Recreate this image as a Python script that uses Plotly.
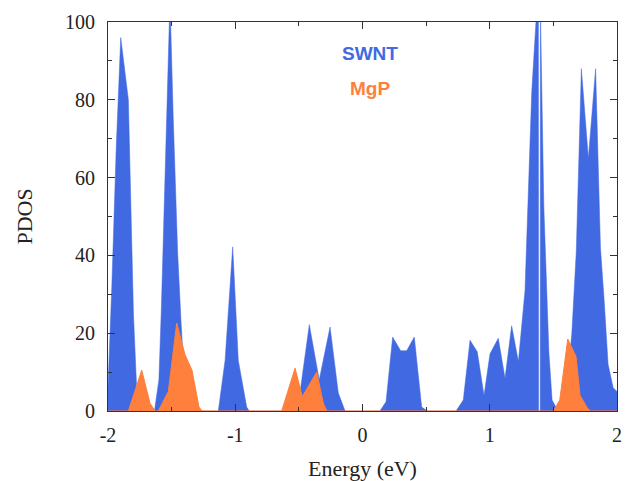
import plotly.graph_objects as go

# SWNT PDOS (energy in eV, value)
swnt_e = [-2.0, -1.97, -1.935, -1.90, -1.84, -1.80, -1.775, -1.76,
          -1.635, -1.60, -1.58, -1.513, -1.487, -1.453, -1.426, -1.40, -1.37,
          -1.133, -1.08, -1.02, -0.976, -0.91, -0.89,
          -0.56, -0.49, -0.418, -0.34, -0.255, -0.19, -0.137,
          0.137, 0.185, 0.237, 0.30, 0.347, 0.407, 0.465, 0.51,
          0.735, 0.792, 0.845, 0.902, 0.955, 1.002, 1.067, 1.12, 1.172, 1.225,
          1.277, 1.33, 1.365, 1.382, 1.3835, 1.3965, 1.398, 1.40, 1.425, 1.465,
          1.49, 1.52, 1.55, 1.60, 1.645, 1.68, 1.72, 1.775, 1.832, 1.87, 1.90,
          1.93, 1.97, 2.0]
swnt_v = [6, 32, 68, 96, 80, 25, 6, 0,
          0, 8, 27, 106, 75, 41, 23, 8, 0,
          0, 13, 42.2, 13, 1, 0,
          0, 5, 22.2, 8, 21.6, 4.6, 0,
          0, 2.4, 19, 15.5, 15.5, 19, 1, 0,
          0, 2.8, 18.2, 15.2, 4, 14.7, 18.7, 8.4, 21.9, 12.7,
          31, 82, 101, 110, 0, 0, 110, 100, 52.5, 15,
          2.8, 1, 1, 4, 20, 41, 88, 65, 88, 42, 28,
          12, 6, 5]

# MgP PDOS
mgp_e = [-2.0, -1.84, -1.735, -1.67, -1.63,
         -1.605, -1.526, -1.46, -1.395, -1.34, -1.285, -1.26,
         -0.635, -0.53, -0.473, -0.36, -0.308, -0.28,
         1.50, 1.55, 1.613, 1.678, 1.71, 1.767, 1.79, 2.0]
mgp_v = [0, 0, 10.5, 2, 0,
         0, 5, 22.6, 14.5, 10.5, 1, 0,
         0, 11, 3.7, 10, 2, 0,
         0, 2.8, 18.5, 14, 4, 0.8, 0, 0]

x_ticks = [-2, -1, 0, 1, 2]
y_ticks = [0, 20, 40, 60, 80, 100]

BLUE = "#4169E1"
ORANGE = "#FF7F3C"
SERIF = "Liberation Serif"

fig = go.Figure()
fig.add_trace(go.Scatter(x=swnt_e, y=swnt_v, mode="lines", fill="tozeroy",
                         line=dict(color=BLUE, width=0.5), fillcolor=BLUE,
                         name="SWNT", showlegend=False))
fig.add_trace(go.Scatter(x=mgp_e, y=mgp_v, mode="lines", fill="tozeroy",
                         line=dict(color=ORANGE, width=1), fillcolor=ORANGE,
                         name="MgP", showlegend=False))

fig.add_annotation(x=0.055, y=92, xref="x", yref="y", text="<b>SWNT</b>",
                   showarrow=False, font=dict(family="Liberation Sans", size=19, color=BLUE))
fig.add_annotation(x=0.055, y=83, xref="x", yref="y", text="<b>MgP</b>",
                   showarrow=False, font=dict(family="Liberation Sans", size=19, color=ORANGE))

# axis titles
fig.add_annotation(x=0.5, y=-0.147, xref="paper", yref="paper", text="Energy (eV)",
                   showarrow=False, yanchor="middle",
                   font=dict(family=SERIF, size=22, color="#222"))
fig.add_annotation(x=-0.165, y=0.5, xref="paper", yref="paper", text="PDOS",
                   showarrow=False, textangle=-90, xanchor="center",
                   font=dict(family=SERIF, size=22, color="#222"))

axis_common = dict(showgrid=False, zeroline=False, showline=True, linecolor="#333",
                   linewidth=1, mirror="allticks", ticks="inside", tickcolor="#333",
                   ticklen=7, tickwidth=1, automargin=False,
                   tickfont=dict(family=SERIF, size=20, color="#222"))

fig.update_xaxes(range=[-2, 2], tickvals=x_ticks, ticktext=[str(t) for t in x_ticks],
                 minor=dict(dtick=0.5, tick0=-2, ticks="inside", ticklen=4, tickcolor="#333"),
                 ticklabelstandoff=6,
                 **axis_common)
fig.update_yaxes(range=[0, 100], tickvals=y_ticks, ticktext=[str(t) for t in y_ticks],
                 minor=dict(dtick=10, tick0=0, ticks="inside", ticklen=4, tickcolor="#333"),
                 ticklabelstandoff=8,
                 **axis_common)

fig.update_layout(width=627, height=481, margin=dict(l=108, r=10, t=22, b=70),
                  plot_bgcolor="white", paper_bgcolor="white")

fig.write_html("out.html", config={"displayModeBar": False},
               post_script="document.body.style.margin='0px';document.body.style.padding='0px';")
